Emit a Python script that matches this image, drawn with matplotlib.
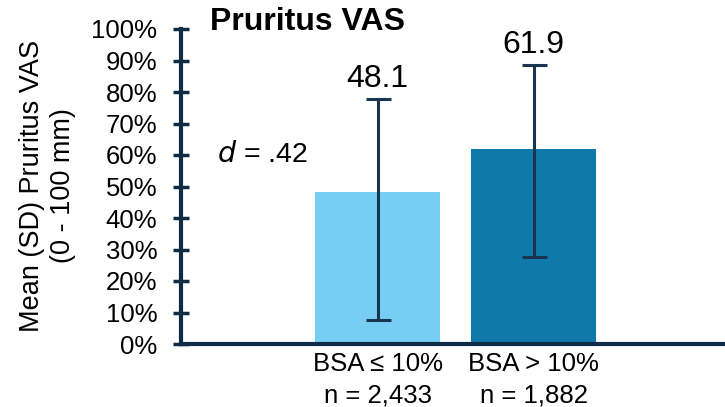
import matplotlib
matplotlib.use("Agg")
import matplotlib.pyplot as plt
import numpy as np

plt.rcParams['font.family'] = ['Liberation Sans', 'DejaVu Sans']

categories = ["BSA \u2264 10%\nn = 2,433", "BSA > 10%\nn = 1,882"]
means = [48.1, 61.9]
err_upper = [29.7, 26.7]
err_lower = [40.5, 34.2]
bar_colors = ["#77CEF4", "#1079AB"]
yticks = [0, 10, 20, 30, 40, 50, 60, 70, 80, 90, 100]
ytick_labels = [f"{v}%" for v in yticks]

navy = "#0F2B45"

fig = plt.figure(figsize=(7.25, 4.07), dpi=100)
ax = fig.add_axes([181/725, 1-344/407, 1-181/725, (344-29)/407])

x = np.arange(len(means))
ax.bar(x, means, width=0.8, color=bar_colors, zorder=2)
ax.errorbar(x, means, yerr=[err_lower, err_upper], fmt='none', ecolor="#1A3550",
            elinewidth=2.2, capsize=9, capthick=2.2, zorder=3)
for xi, m, eu in zip(x, means, err_upper):
    ax.text(xi, m + eu + 1.5, f"{m}", ha='center', va='bottom', fontsize=23)

ax.set_xlim(-1.26, 2.226)
ax.set_ylim(0, 100)
ax.set_yticks(yticks)
ax.set_yticklabels(ytick_labels, fontsize=18.5)
ax.set_xticks(x)
ax.set_xticklabels(categories, fontsize=18.5, linespacing=1.4)
ax.tick_params(axis='x', length=0, pad=6)
ax.tick_params(axis='y', direction='inout', length=12, width=2.5, color=navy, pad=11)

for s in ['top', 'right']:
    ax.spines[s].set_visible(False)
ax.spines['left'].set_color(navy)
ax.spines['left'].set_linewidth(3)
ax.spines['bottom'].set_color(navy)
ax.spines['bottom'].set_linewidth(3)

fig.text(210/725, 1-22/407, "Pruritus VAS", fontsize=23, fontweight='bold', ha='left', va='center')
fig.text(217/725, 1-155/407, r"$\it{d}$ = .42", fontsize=20.5, ha='left', va='center')
fig.text(48/725, 1-186/407, "Mean (SD) Pruritus VAS\n(0 - 100 mm)", rotation=90,
         fontsize=19.5, ha='center', va='center', linespacing=1.25)

fig.savefig("out.png", dpi=100)
